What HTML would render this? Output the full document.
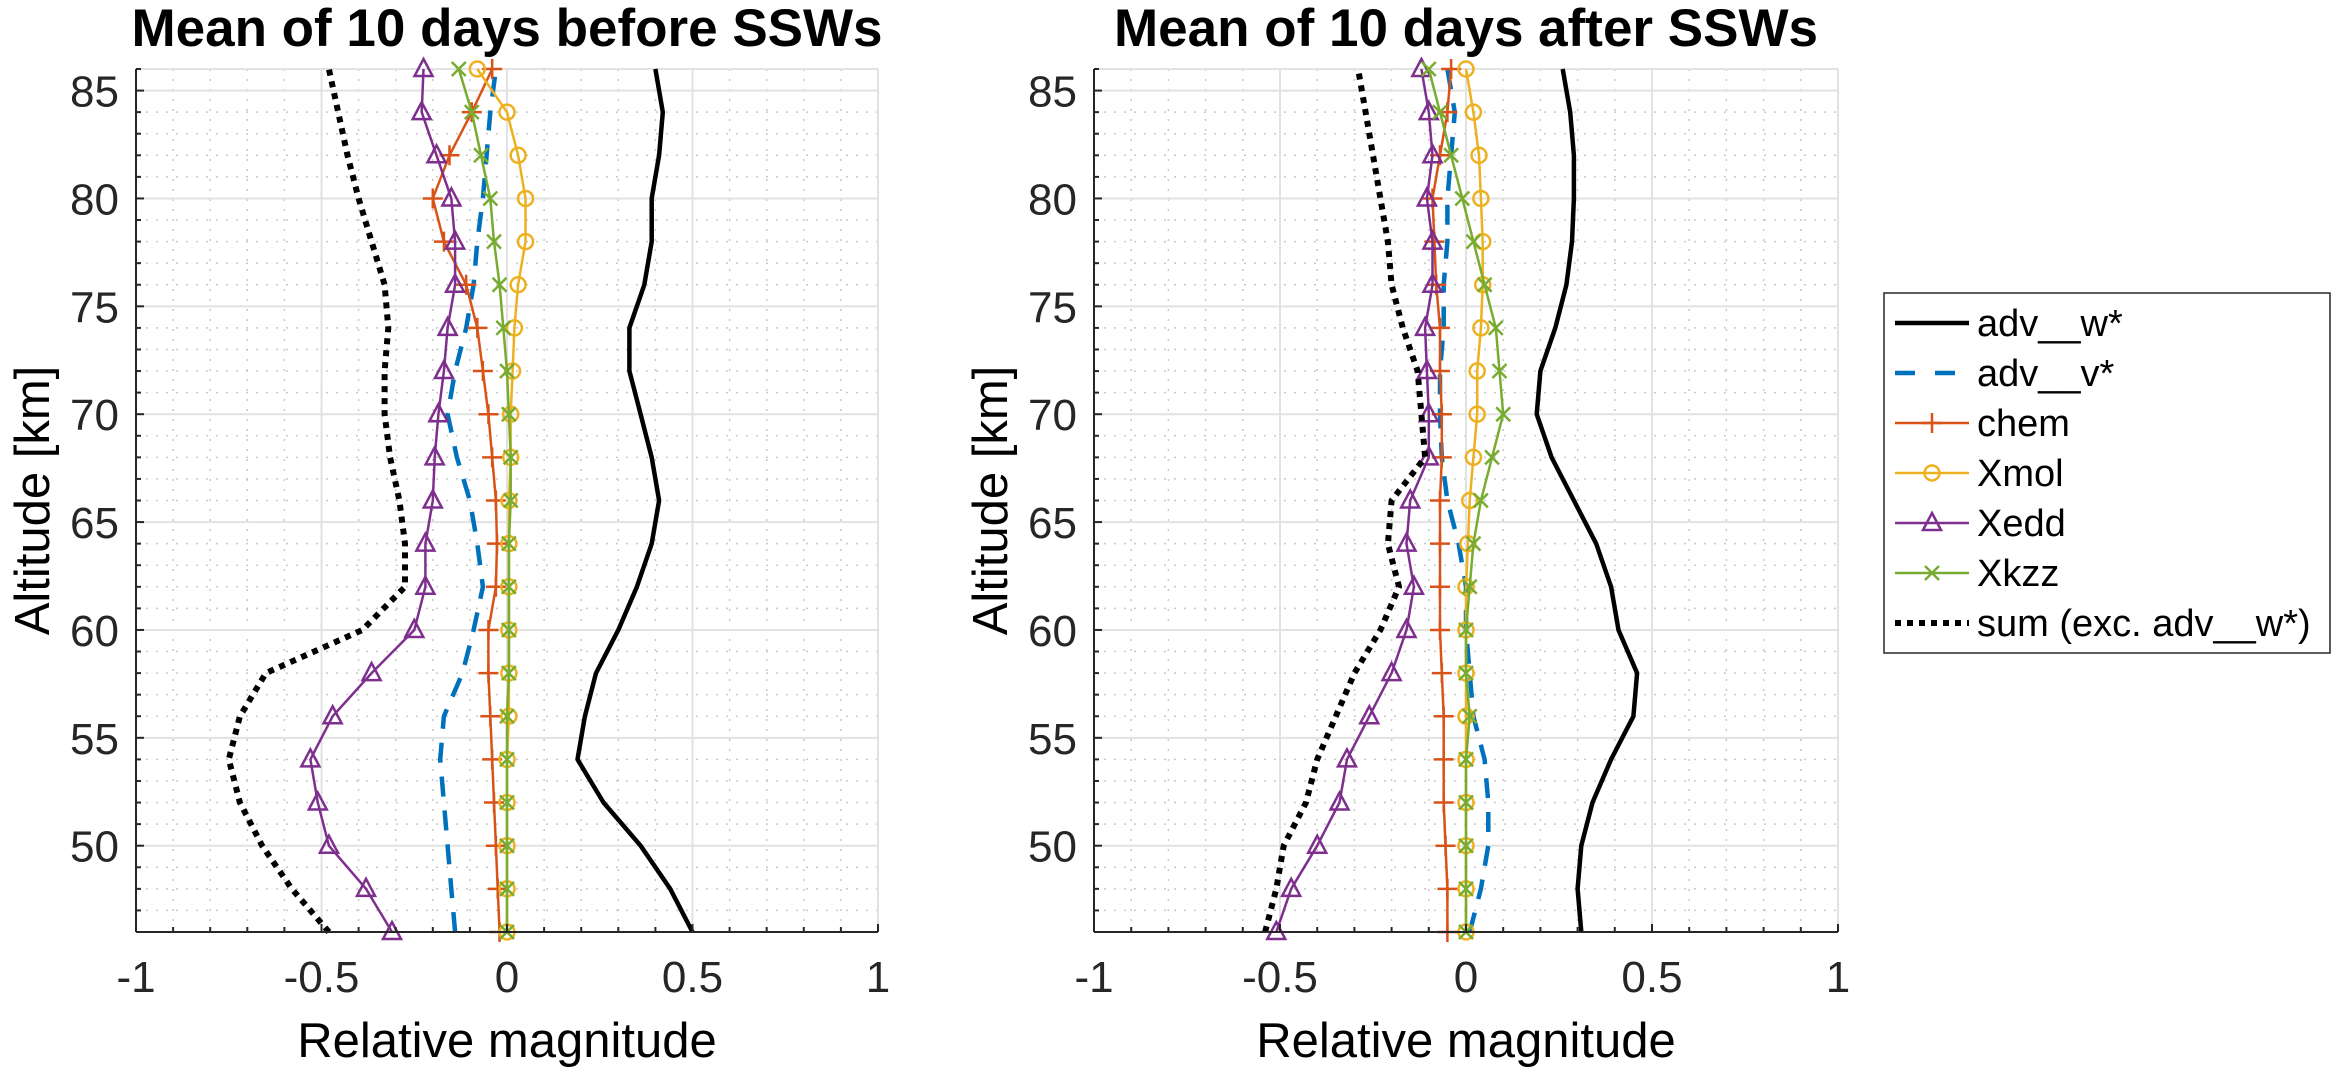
<!DOCTYPE html>
<html><head><meta charset="utf-8"><style>
html,body{margin:0;padding:0;background:#fff;}
svg{display:block;font-family:"Liberation Sans",sans-serif;}
</style></head><body>
<svg id="fig" width="2339" height="1067" viewBox="0 0 2339 1067" xmlns="http://www.w3.org/2000/svg">
<rect width="2339" height="1067" fill="#fff"/>
<g id="p1"></g>
<g id="p2"></g>
<g id="legend"></g>
</svg>
<script>
const altitudes = [46,48,50,52,54,56,58,60,62,64,66,68,70,72,74,76,78,80,82,84,86];
const xTicks = [-1,-0.5,0,0.5,1];
const xTickLabels = ["-1","-0.5","0","0.5","1"];
const yTicks = [50,55,60,65,70,75,80,85];
const seriesNames = ["adv__w*","adv__v*","chem","Xmol","Xedd","Xkzz","sum (exc. adv__w*)"];

const before_advw = [0.50,0.44,0.36,0.26,0.19,0.21,0.24,0.30,0.35,0.39,0.41,0.39,0.36,0.33,0.33,0.37,0.39,0.39,0.41,0.42,0.40];
const before_advv = [-0.14,-0.15,-0.16,-0.17,-0.18,-0.17,-0.12,-0.09,-0.065,-0.08,-0.10,-0.135,-0.16,-0.14,-0.11,-0.09,-0.08,-0.065,-0.055,-0.045,-0.03];
const before_chem = [-0.02,-0.025,-0.03,-0.035,-0.04,-0.045,-0.05,-0.05,-0.03,-0.027,-0.03,-0.04,-0.05,-0.065,-0.08,-0.11,-0.17,-0.20,-0.155,-0.095,-0.04];
const before_xmol = [0.0,0.0,0.0,0.0,0.0,0.005,0.005,0.005,0.005,0.005,0.005,0.01,0.01,0.015,0.02,0.03,0.05,0.05,0.03,0.0,-0.08];
const before_xedd = [-0.31,-0.38,-0.48,-0.51,-0.53,-0.47,-0.365,-0.25,-0.22,-0.22,-0.20,-0.195,-0.185,-0.17,-0.16,-0.14,-0.14,-0.15,-0.19,-0.23,-0.225];
const before_xkzz = [0.0,0.0,0.0,0.0,0.0,0.0,0.005,0.005,0.005,0.005,0.01,0.01,0.005,0.0,-0.01,-0.02,-0.035,-0.045,-0.07,-0.095,-0.13];
const before_sum = [-0.48,-0.58,-0.66,-0.72,-0.75,-0.72,-0.65,-0.39,-0.275,-0.275,-0.29,-0.315,-0.33,-0.33,-0.32,-0.33,-0.365,-0.40,-0.43,-0.455,-0.48];

const after_advw = [0.31,0.30,0.31,0.34,0.39,0.45,0.46,0.41,0.39,0.35,0.29,0.23,0.19,0.20,0.24,0.27,0.285,0.29,0.29,0.28,0.26];
const after_advv = [0.01,0.04,0.06,0.06,0.05,0.02,0.01,0.0,0.0,-0.02,-0.05,-0.065,-0.07,-0.07,-0.06,-0.06,-0.05,-0.05,-0.04,-0.03,-0.05];
const after_chem = [-0.05,-0.05,-0.055,-0.06,-0.06,-0.06,-0.065,-0.07,-0.07,-0.07,-0.07,-0.065,-0.065,-0.07,-0.07,-0.08,-0.085,-0.09,-0.07,-0.05,-0.04];
const after_xmol = [0.0,0.0,0.0,0.0,0.0,0.0,0.0,0.0,0.0,0.005,0.01,0.02,0.03,0.03,0.04,0.045,0.045,0.04,0.035,0.02,0.0];
const after_xedd = [-0.51,-0.47,-0.40,-0.34,-0.32,-0.26,-0.20,-0.16,-0.14,-0.16,-0.15,-0.10,-0.10,-0.105,-0.11,-0.09,-0.09,-0.105,-0.09,-0.10,-0.12];
const after_xkzz = [0.0,0.0,0.0,0.0,0.0,0.01,0.0,0.0,0.01,0.02,0.04,0.07,0.10,0.09,0.08,0.05,0.02,-0.01,-0.04,-0.07,-0.10];
const after_sum = [-0.54,-0.51,-0.49,-0.43,-0.40,-0.35,-0.30,-0.23,-0.18,-0.21,-0.20,-0.11,-0.12,-0.13,-0.17,-0.20,-0.21,-0.23,-0.25,-0.27,-0.29];

const NS = "http://www.w3.org/2000/svg";
function mk(tag, attrs, parent){ const e=document.createElementNS(NS,tag); for(const k in attrs) e.setAttribute(k,attrs[k]); if(parent) parent.appendChild(e); return e; }

const styles = [
 {c:"#000000", w:4.5, dash:null, m:null},
 {c:"#0072BD", w:4.5, dash:"20,14", m:null},
 {c:"#D95319", w:2.5, dash:null, m:"plus"},
 {c:"#EDB120", w:2.5, dash:null, m:"circle"},
 {c:"#7E2F8E", w:2.5, dash:null, m:"tri"},
 {c:"#77AC30", w:2.5, dash:null, m:"x"},
 {c:"#000000", w:6, dash:"6,6", m:null}
];

function marker(g, type, x, y, c){
  let el;
  if(type==="plus"){ el=mk("path",{d:`M${x-10},${y}H${x+10}M${x},${y-10}V${y+10}`,stroke:c,"stroke-width":2.5,fill:"none"},g); }
  else if(type==="x"){ el=mk("path",{d:`M${x-7},${y-7}L${x+7},${y+7}M${x-7},${y+7}L${x+7},${y-7}`,stroke:c,"stroke-width":2.5,fill:"none"},g); }
  else if(type==="circle"){ el=mk("circle",{cx:x,cy:y,r:7.5,stroke:c,"stroke-width":2.5,fill:"none"},g); }
  else { el=mk("path",{d:`M${x},${y-10}L${x+9},${y+7}L${x-9},${y+7}Z`,stroke:c,"stroke-width":2.5,fill:"none"},g); }
  
  
}

function drawPlot(gid, x0, x1, title, series){
  const g = document.getElementById(gid);
  const top=69, bot=932;
  const xs = v => x0 + (v+1)/2*(x1-x0);
  const ys = a => top + (86-a)/(86-46)*(bot-top);
  const grid = mk("g",{},g);
  
  
  for(let i=-10;i<=10;i++){ const v=i/10; if(i%5===0) continue;
    mk("line",{x1:xs(v),x2:xs(v),y1:top,y2:bot,stroke:"#c8c8c8","stroke-width":1.5,"stroke-dasharray":"2,8"},grid); }
  for(let a=47;a<=86;a++){ if(a%5===0) continue;
    mk("line",{x1:x0,x2:x1,y1:ys(a),y2:ys(a),stroke:"#c8c8c8","stroke-width":1.5,"stroke-dasharray":"2,8"},grid); }
  xTicks.forEach(v=>mk("line",{x1:xs(v),x2:xs(v),y1:top,y2:bot,stroke:"#e2e2e2","stroke-width":2},grid));
  yTicks.forEach(a=>mk("line",{x1:x0,x2:x1,y1:ys(a),y2:ys(a),stroke:"#e2e2e2","stroke-width":2},grid));
  mk("line",{x1:x0,x2:x1,y1:top,y2:top,stroke:"#e2e2e2","stroke-width":2},grid);
  mk("line",{x1:x1,x2:x1,y1:top,y2:bot,stroke:"#e2e2e2","stroke-width":2},grid);
  series.forEach((vals,si)=>{
    const st=styles[si];
    const sg=mk("g",{},g);
    
    
    const pts = vals.map((v,i)=>xs(v).toFixed(1)+","+ys(altitudes[i]).toFixed(1)).join(" ");
    const a={points:pts,fill:"none",stroke:st.c,"stroke-width":st.w,"stroke-linejoin":"round"};
    if(st.dash){a["stroke-dasharray"]=st.dash;}
    mk("polyline",a,sg);
    if(st.m) vals.forEach((v,i)=>marker(sg,st.m,xs(v),ys(altitudes[i]),st.c));
  });
  const ax=mk("g",{},g);
  
  
  mk("line",{x1:x0,x2:x0,y1:top,y2:bot,stroke:"#262626","stroke-width":2},ax);
  mk("line",{x1:x0,x2:x1,y1:bot,y2:bot,stroke:"#262626","stroke-width":2},ax);
  for(let a=47;a<=86;a++){ const L=(a%5===0)?8:5; mk("line",{x1:x0,x2:x0+L,y1:ys(a),y2:ys(a),stroke:"#262626","stroke-width":2},ax); }
  for(let i=-10;i<=10;i++){ const L=(i%5===0)?8:5; mk("line",{x1:xs(i/10),x2:xs(i/10),y1:bot,y2:bot-L,stroke:"#262626","stroke-width":2},ax); }
  xTicks.forEach((v,i)=>{ const t=mk("text",{x:xs(v),y:bot+60,"text-anchor":"middle","font-size":44,fill:"#262626"},ax); t.textContent=xTickLabels[i];
      });
  yTicks.forEach(a=>{ const t=mk("text",{x:x0-17,y:ys(a)+16,"text-anchor":"end","font-size":44,fill:"#262626"},ax); t.textContent=String(a);
      });
  const xl=mk("text",{x:(x0+x1)/2,y:1057,"text-anchor":"middle","font-size":49,fill:"#000"},g); xl.textContent="Relative magnitude";
   
  const yl=mk("text",{x:0,y:0,"text-anchor":"middle","font-size":49,fill:"#000",transform:`translate(${x0-87},${(top+bot)/2}) rotate(-90)`},g); yl.textContent="Altitude [km]";
   
  const tt=mk("text",{x:(x0+x1)/2,y:46,"text-anchor":"middle","font-size":53,"font-weight":"bold",fill:"#000"},g); tt.textContent=title;
   
}

drawPlot("p1",136,878,"Mean of 10 days before SSWs",[before_advw,before_advv,before_chem,before_xmol,before_xedd,before_xkzz,before_sum]);
drawPlot("p2",1094,1838,"Mean of 10 days after SSWs",[after_advw,after_advv,after_chem,after_xmol,after_xedd,after_xkzz,after_sum]);

const lg=document.getElementById("legend");
mk("rect",{x:1884,y:293,width:446,height:360,fill:"#fff",stroke:"#262626","stroke-width":1.5},lg);
seriesNames.forEach((n,i)=>{
  const y=323+i*50, st=styles[i];
  const e=mk("g",{},lg);
  
  
  const a={x1:1895,x2:1969,y1:y,y2:y,stroke:st.c,"stroke-width":st.w};
  if(st.dash) a["stroke-dasharray"]=(i===1)?"20,20":st.dash;
  mk("line",a,e);
  if(st.m) marker(e,st.m,1932,y,st.c);
  const t=mk("text",{x:1977,y:y+13,"font-size":38,fill:"#000"},e); t.textContent=n;
});
</script>
</body></html>
